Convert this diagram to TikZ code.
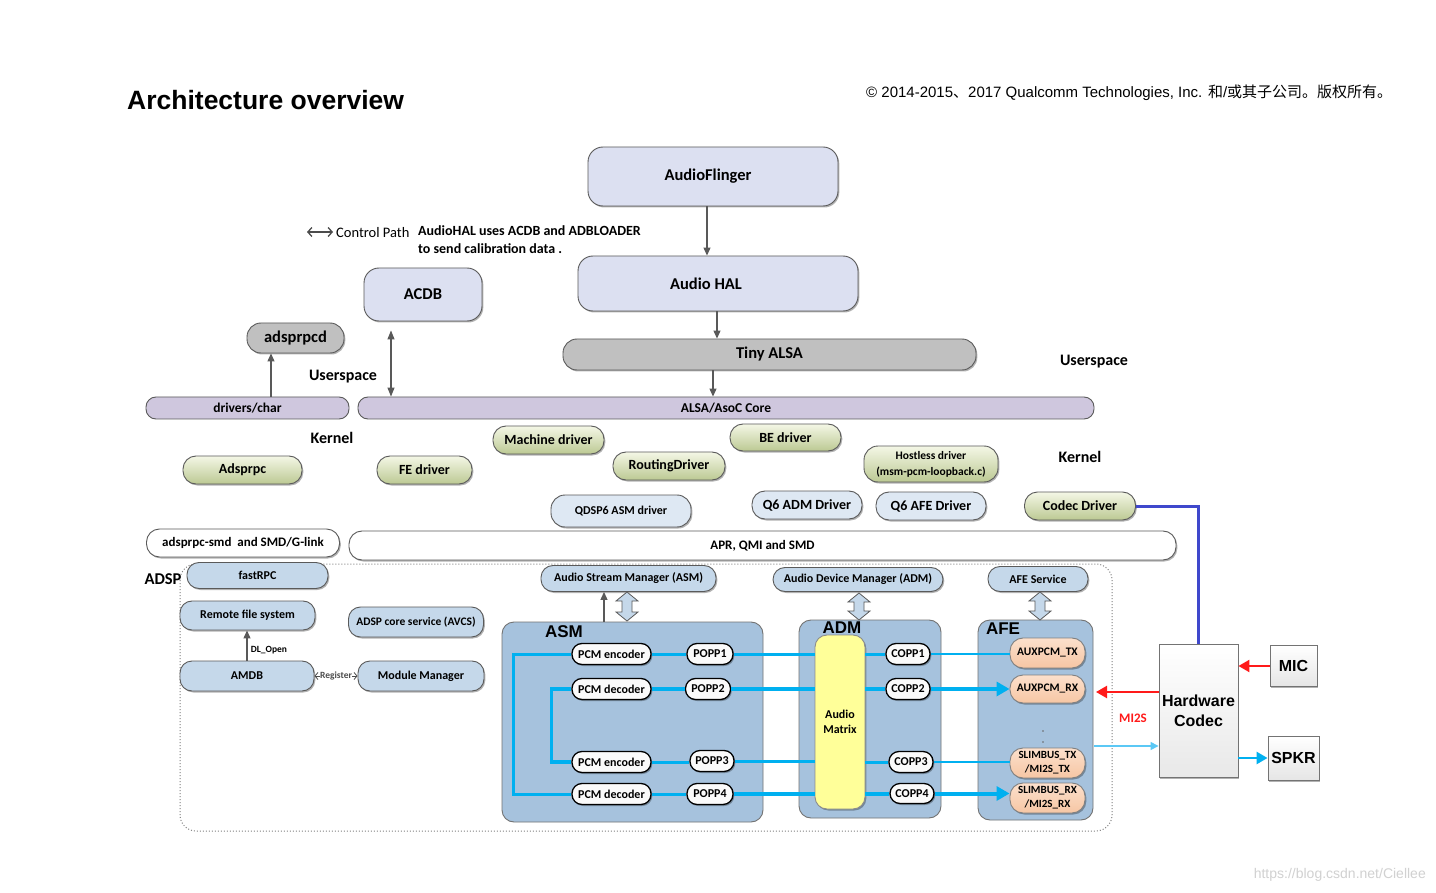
\documentclass[tikz,border=0pt]{standalone}
\usepackage{fontspec}
\setmainfont{Carlito}
\newfontfamily\arialf{Liberation Sans}
\newfontfamily\cjkf{Noto Sans CJK SC}
\usetikzlibrary{arrows.meta,shadows,calc}
\definecolor{lavbox}{HTML}{DCE0F1}
\definecolor{graybox}{HTML}{C0C0C0}
\definecolor{purbar}{HTML}{CFC7DE}
\definecolor{ltblue}{HTML}{DEE8F3}
\definecolor{steel}{HTML}{C5D8EA}
\definecolor{dspbox}{HTML}{A6C2DD}
\definecolor{gtop}{HTML}{F4F7E6}
\definecolor{gbot}{HTML}{BCC993}
\definecolor{peach}{HTML}{F6C6A4}
\definecolor{ptop}{HTML}{FCE0CC}
\definecolor{mtx}{HTML}{FFFF99}
\definecolor{cyanl}{HTML}{00B0F0}
\definecolor{cyanlt}{HTML}{5BC8F5}
\definecolor{blueline}{HTML}{3F48CC}
\definecolor{redl}{HTML}{FF1A1A}
\definecolor{edge}{HTML}{5A5A5A}
\newcommand\fz[2]{\fontsize{#1}{#2}\selectfont}
\newcommand\blkarrow[3]{\draw[edge, line width=0.8pt, fill=steel] (#1,#2) -- (#1+11,#2+9) -- (#1+5,#2+9) -- (#1+5,#3-9) -- (#1+11,#3-9) -- (#1,#3) -- (#1-11,#3-9) -- (#1-5,#3-9) -- (#1-5,#2+9) -- (#1-11,#2+9) -- cycle;}
\begin{document}
\begin{tikzpicture}[x=1pt,y=-1pt,
  bx/.style={draw=edge, line width=0.9pt, inner sep=0pt, align=center, font=\bfseries\fz{14}{16}},
  sz/.style 2 args={minimum width=#1pt, minimum height=#2pt},
  shd/.style={drop shadow={shadow xshift=1.3pt, shadow yshift=-1.5pt, opacity=0.3, fill=black}},
  lav/.style={bx, fill=lavbox, rounded corners=15pt, shd, font=\bfseries\fz{16.5}{19}},
  gry/.style={bx, fill=graybox, rounded corners=14pt, shd, font=\bfseries\fz{16.5}{19}},
  pur/.style={bx, fill=purbar, rounded corners=10pt, font=\bfseries\fz{13.5}{16}},
  grn/.style={bx, top color=gtop, bottom color=gbot, rounded corners=13pt, shd},
  ltb/.style={bx, fill=ltblue, rounded corners=13pt, shd},
  wht/.style={bx, fill=white, rounded corners=13pt, shd, font=\bfseries\fz{13}{15}},
  stl/.style={bx, fill=steel, rounded corners=12pt, shd, font=\bfseries\fz{12}{14}},
  dsp/.style={bx, fill=dspbox, rounded corners=12pt, draw=black!55},
  wp/.style={bx, fill=black!2, draw=black, line width=1.3pt, rounded corners=10pt, font=\bfseries\fz{12}{14}, shd},
  pch/.style={bx, top color=ptop, bottom color=peach, draw=black!50, rounded corners=13pt, font=\bfseries\fz{11.5}{14}, shd},
  lbl/.style={inner sep=0pt, font=\bfseries\fz{16}{19}},
  boxlbl/.style={inner sep=0pt, font=\arialf\bfseries\fz{17}{19}},
  garr/.style={draw=black!65, line width=1.1pt, -{Triangle[length=8pt,width=7pt]}},
  garr2/.style={draw=black!65, line width=1.1pt, {Triangle[length=9pt,width=7pt]}-{Triangle[length=9pt,width=7pt]}},
  cy/.style={draw=cyanl, line width=3pt},
  cyk/.style={draw=cyanl, line width=4pt},
  cyn/.style={draw=cyanl, line width=2pt},
  cyarr/.style={-{Triangle[length=13pt,width=14pt]}},
  redar/.style={draw=redl, line width=2.2pt, -{Triangle[length=11pt,width=12pt]}},
]
\useasboundingbox (0,0) rectangle (1436,893);
\fill[white] (0,0) rectangle (1436,893);

% header
\node[anchor=base west, inner sep=0pt, font=\arialf\bfseries\fz{26.5}{30}] (title) at (127,110) {Architecture overview};
\node[anchor=west, inner sep=0pt, font=\arialf\fz{15}{18}] (copy) at (866,93) {© 2014-2015{\cjkf 、}2017 Qualcomm Technologies, Inc. {\cjkf 和}/{\cjkf 或其子公司。版权所有。}};
\node[anchor=east, inner sep=0pt, font=\arialf\fz{14}{16}, text=black!18] (url) at (1426,875) {https://blog.csdn.net/Ciellee};

% legend
\coordinate (legL) at (307,232);
\coordinate (legR) at (333,232);
\draw[black!70, line width=1.3pt, {Straight Barb[length=4pt,width=9pt]}-{Straight Barb[length=4pt,width=9pt]}] (legL) -- (legR);
\node[anchor=west, inner sep=0pt, font=\fz{14.5}{17}] (cp) at (336,233) {Control Path};
\node[anchor=north west, inner sep=0pt, align=left, font=\bfseries\fz{14}{18}] (note) at (418,225) {AudioHAL uses ACDB and ADBLOADER\\to send calibration data .};

% userspace
\node[lav, sz={250}{59}] (af) at (713,176.5) {AudioFlinger\hspace*{10pt}};
\node[lav, sz={280}{55}] (hal) at (718,283.5) {Audio HAL\hspace*{24pt}};
\node[lav, sz={118}{53}] (acdb) at (423,294.5) {ACDB};
\node[gry, sz={413}{31}] (tiny) at (769.5,354.5) {Tiny ALSA};
\node[gry, sz={97}{30}] (adsprpcd) at (295.5,338) {adsprpcd};
\node[pur, sz={203}{22}] (drv) at (247.5,408) {drivers/char};
\node[pur, sz={736}{22}] (alsa) at (726,408) {ALSA/AsoC Core};

\node[lbl] (us1) at (343,377) {Userspace};
\node[lbl] (k1) at (332,438) {Kernel};
\node[lbl] (us2) at (1094,362) {Userspace};
\node[lbl] (k2) at (1080,457) {Kernel};

% kernel drivers
\node[grn, sz={119}{28}] (adsprpc) at (242.5,470) {Adsprpc};
\node[grn, sz={95}{28}] (fe) at (424.5,470) {FE driver};
\node[grn, sz={111}{28}] (mach) at (548.5,440) {Machine driver};
\node[grn, sz={112}{28}] (route) at (669,466) {RoutingDriver};
\node[grn, sz={111}{27}] (be) at (785.5,437.5) {BE driver};
\node[grn, sz={134}{36}, rounded corners=14pt, font=\bfseries\fz{11.5}{16}] (host) at (931,464) {Hostless driver\\(msm-pcm-loopback.c)};
\node[grn, sz={111}{28}] (codecdrv) at (1080,506) {Codec Driver};
\node[ltb, sz={140}{32}, rounded corners=14pt, font=\bfseries\fz{12}{14}] (qasm) at (621,511) {QDSP6 ASM driver};
\node[ltb, sz={110}{28}] (qadm) at (807,505) {Q6 ADM Driver};
\node[ltb, sz={110}{28}] (qafe) at (931,506) {Q6 AFE Driver};
\node[wht, sz={193}{28}] (smd) at (243,543) {adsprpc-smd\ \ and SMD/G-link};
\node[wht, sz={827}{29}] (apr) at (762.5,545.5) {APR, QMI and SMD};

% ADSP region
\draw[dotted, line width=1pt, black!50, rounded corners=16pt] (180,564) rectangle (1112,831);
\node[inner sep=0pt, font=\bfseries\fz{16.5}{19}] (adspl) at (163,579) {ADSP};
\node[stl, sz={141}{26}] (fastrpc) at (257.5,575.5) {fastRPC};
\node[stl, sz={135}{29}] (rfs) at (247.5,615.5) {Remote file system};
\node[stl, sz={135}{30}, font=\bfseries\fz{11.5}{14}] (avcs) at (416,622) {ADSP core service (AVCS)};
\node[stl, sz={134}{30}] (amdb) at (247,676) {AMDB};
\node[stl, sz={126}{30}] (modmgr) at (421,676) {Module Manager};
\node[stl, sz={175}{26}] (asmmgr) at (628.5,578.5) {Audio Stream Manager (ASM)};
\node[stl, sz={170}{24}] (admmgr) at (858,579.5) {Audio Device Manager (ADM)};
\node[stl, sz={100}{25}] (afesvc) at (1038,579) {AFE Service};

\node[dsp, sz={261}{200}] (asmbox) at (632.5,722) {};
\node[dsp, sz={142}{198}] (admbox) at (870,719) {};
\node[dsp, sz={115}{200}] (afebox) at (1035.5,720) {};
\node[boxlbl] (asml) at (564,632) {ASM};
\node[boxlbl] (adml) at (842,628) {ADM};
\node[boxlbl] (afel) at (1003,629) {AFE};

\node[bx, fill=mtx, draw=black!45, rounded corners=12pt, sz={50}{174}, shd, font=\bfseries\fz{12}{15}] (mtx) at (840,722) {Audio\\Matrix};

\node[wp, sz={79}{21}] (e1) at (611.5,654) {PCM encoder};
\node[wp, sz={79}{21}] (d2) at (611.5,689) {PCM decoder};
\node[wp, sz={79}{21}] (e3) at (611.5,762) {PCM encoder};
\node[wp, sz={79}{21}] (d4) at (611.5,794) {PCM decoder};
\node[wp, sz={46}{21}] (p1) at (710,654) {POPP1};
\node[wp, sz={45}{21}] (p2) at (708,689) {POPP2};
\node[wp, sz={44}{21}] (p3) at (712,761) {POPP3};
\node[wp, sz={46}{21}] (p4) at (710,794) {POPP4};
\node[wp, sz={44}{21}] (c1) at (908,654) {COPP1};
\node[wp, sz={44}{21}] (c2) at (908,689) {COPP2};
\node[wp, sz={44}{21}] (c3) at (911,762) {COPP3};
\node[wp, sz={44}{20}] (c4) at (912,793.5) {COPP4};
\node[pch, sz={75}{30}] (tx) at (1047.5,653) {AUXPCM\_TX};
\node[pch, sz={75}{28}] (rx) at (1047.5,689) {AUXPCM\_RX};
\node[pch, sz={75}{30}, font=\bfseries\fz{11}{14}] (stx) at (1047.5,763) {SLIMBUS\_TX\\/MI2S\_TX};
\node[pch, sz={75}{30}, font=\bfseries\fz{11}{14}] (srx) at (1047.5,798) {SLIMBUS\_RX\\/MI2S\_RX};
\fill[black!60] (1043,731) circle (0.8) (1043,742) circle (0.8);

% hardware
\node[bx, draw=black!55, top color=white, bottom color=black!9, sz={79}{133}, shd, font=\arialf\bfseries\fz{16}{20}] (hwc) at (1198.5,711) {Hardware\\Codec};
\node[bx, draw=black!55, top color=white, bottom color=black!10, sz={47}{41}, shd, font=\arialf\bfseries\fz{16}{19}] (mic) at (1293.5,666) {MIC};
\node[bx, draw=black!55, top color=white, bottom color=black!10, sz={51}{44}, shd, font=\arialf\bfseries\fz{16}{19}] (spkr) at (1293.5,758) {SPKR};

% connectors
\coordinate (x707) at (707,0);
\coordinate (x717) at (717,0);
\coordinate (x713) at (713,0);
\coordinate (x271) at (271,0);
\coordinate (x391) at (391,0);
\coordinate (x604) at (604,0);
\draw[garr] (af.south -| x707) -- (hal.north -| x707);
\draw[garr] (hal.south -| x717) -- (tiny.north -| x717);
\draw[garr] (tiny.south -| x713) -- (alsa.north -| x713);
\draw[garr] (drv.north -| x271) -- (adsprpcd.south -| x271);
\draw[garr2] ($(acdb.south -| x391)+(0,9)$) -- (alsa.north -| x391);

\draw[garr] (amdb.north) -- (amdb.north |- rfs.south);
\node[inner sep=0pt, font=\bfseries\fz{9.5}{11}] (dlo) at (269,650) {DL\_Open};
\draw[black!70, line width=0.8pt, {Straight Barb[length=3pt,width=7pt]}-{Straight Barb[length=3pt,width=7pt]}] (amdb.east) -- node[fill=white, inner sep=0.5pt, font=\bfseries\fz{9.5}{11}] (reg) {Register} (modmgr.west);

\draw[garr] (asmbox.north -| x604) -- (asmmgr.south -| x604);
\blkarrow{627}{592}{621}
\blkarrow{859}{593}{620}
\blkarrow{1040}{592}{620}

% audio paths
\draw[cy] (e1.west) -- ++(-58,0) |- (d4.west);
\draw[cy, line width=3.5pt] (d2.west) -- ++(-20,0) |- (e3.west);
\draw[cy] (e1.east) -- (p1.west);
\draw[cy] (p1.east) -- (p1.east -| mtx.west);
\draw[cy] (mtx.east |- c1.west) -- (c1.west);
\draw[cyn] (c1.east) -- (c1.east -| tx.west);
\draw[cyk] (d2.east) -- (p2.west);
\draw[cyk] (p2.east) -- (p2.east -| mtx.west);
\draw[cyk] (mtx.east |- c2.west) -- (c2.west);
\draw[cyk, cyarr] (c2.east) -- (c2.east -| rx.west);
\draw[cy] (e3.east) -- (e3.east -| p3.west);
\draw[cy] (p3.east) -- (p3.east -| mtx.west);
\draw[cy] (mtx.east |- c3.west) -- (c3.west);
\draw[cyn] (c3.east) -- (c3.east -| stx.west);
\draw[cy] (d4.east) -- (p4.west);
\draw[cyk] (p4.east) -- (p4.east -| mtx.west);
\draw[cyk] (mtx.east |- c4.west) -- (c4.west);
\draw[cyk, cyarr] (c4.east) -- (c4.east -| srx.west);

\draw[redar] (mic.west) -- (mic.west -| hwc.east);
\coordinate (redend) at (1096,692);
\draw[redar] (hwc.west |- redend) -- (redend);
\node[inner sep=0pt, text=redl, font=\bfseries\fz{13}{15}] (mi2s) at (1133,718) {MI2S};
\coordinate (txs) at (1094,746);
\draw[draw=cyanlt, line width=1.5pt, -{Triangle[length=8pt,width=8pt]}] (txs) -- (txs -| hwc.west);
\draw[draw=cyanl, line width=2.5pt, -{Triangle[length=11pt,width=12pt]}] (hwc.east |- spkr.west) -- (spkr.west);
\draw[draw=blueline, line width=3pt] (codecdrv.east) -| (hwc.north);
\end{tikzpicture}
\end{document}
